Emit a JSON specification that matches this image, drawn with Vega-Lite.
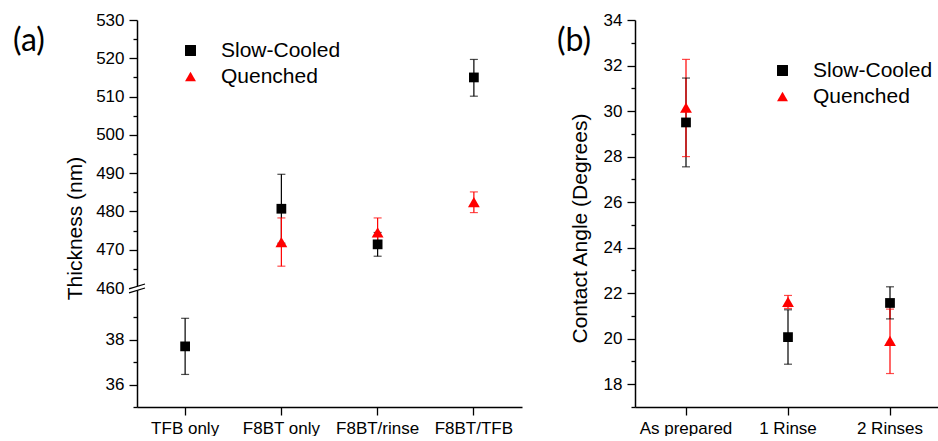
{
  "$schema": "https://vega.github.io/schema/vega-lite/v6.json",
  "padding": {"left": 12, "top": 11, "right": 0, "bottom": 0},
  "datasets": {
    "thickness": [
      {"sample": "TFB only", "series": "Slow-Cooled", "value": 37.7, "lo": 36.45, "hi": 38.95},
      {"sample": "F8BT only", "series": "Slow-Cooled", "value": 480.7, "lo": 471.7, "hi": 489.7},
      {"sample": "F8BT/rinse", "series": "Slow-Cooled", "value": 471.4, "lo": 468.3, "hi": 474.5},
      {"sample": "F8BT/TFB", "series": "Slow-Cooled", "value": 515.0, "lo": 510.1, "hi": 519.7},
      {"sample": "F8BT only", "series": "Quenched", "value": 472.0, "lo": 465.7, "hi": 478.3},
      {"sample": "F8BT/rinse", "series": "Quenched", "value": 474.5, "lo": 470.7, "hi": 478.3},
      {"sample": "F8BT/TFB", "series": "Quenched", "value": 482.4, "lo": 479.7, "hi": 485.1}
    ],
    "angle": [
      {"sample": "As prepared", "series": "Slow-Cooled", "value": 29.5, "lo": 27.55, "hi": 31.45},
      {"sample": "1 Rinse", "series": "Slow-Cooled", "value": 20.07, "lo": 18.88, "hi": 21.27},
      {"sample": "2 Rinses", "series": "Slow-Cooled", "value": 21.57, "lo": 20.87, "hi": 22.28},
      {"sample": "As prepared", "series": "Quenched", "value": 30.15, "lo": 28.0, "hi": 32.27},
      {"sample": "1 Rinse", "series": "Quenched", "value": 21.62, "lo": 21.33, "hi": 21.9},
      {"sample": "2 Rinses", "series": "Quenched", "value": 19.9, "lo": 18.47, "hi": 21.3}
    ]
  },
  "hconcat": [
    {
      "vconcat": [
        {
          "width": 385,
          "height": 268,
          "title": {"text": "(a)", "anchor": "end", "frame": "group", "orient": "left", "angle": 0, "align": "right", "baseline": "top", "font": "Lato", "fontSize": 32, "fontWeight": "normal", "color": "black", "offset": -12, "dy": 6},
          "data": {"name": "thickness"},
          "transform": [{"filter": "datum.value > 100"}],
          "encoding": {
            "x": {"field": "sample", "type": "nominal", "scale": {"domain": ["TFB only", "F8BT only", "F8BT/rinse", "F8BT/TFB"], "paddingInner": 0, "paddingOuter": 0}, "axis": null}
          },
          "layer": [
            {
              "mark": {"type": "rule", "strokeWidth": 1.2},
              "encoding": {
                "y": {"field": "lo", "type": "quantitative", "title": "Thickness (nm)", "scale": {"domain": [460, 530], "nice": false, "zero": false},
                  "axis": {"values": [460, 465, 470, 475, 480, 485, 490, 495, 500, 505, 510, 515, 520, 525, 530], "tickCount": 100, "format": "d", "labelExpr": "datum.value % 10 === 0 ? datum.label : ''", "tickSize": {"condition": {"test": "datum.value % 10 === 0", "value": 8}, "value": 4}, "titleY": 208, "titlePadding": 10}},
                "y2": {"field": "hi"},
                "color": {"condition": {"test": "datum.series === 'Quenched'", "value": "#ff0000"}, "value": "black"}
              }
            },
            {
              "mark": {"type": "tick", "size": 8, "thickness": 1.2},
              "encoding": {
                "y": {"field": "lo", "type": "quantitative", "title": "Thickness (nm)"},
                "color": {"condition": {"test": "datum.series === 'Quenched'", "value": "#ff0000"}, "value": "black"}
              }
            },
            {
              "mark": {"type": "tick", "size": 8, "thickness": 1.2},
              "encoding": {
                "y": {"field": "hi", "type": "quantitative", "title": "Thickness (nm)"},
                "color": {"condition": {"test": "datum.series === 'Quenched'", "value": "#ff0000"}, "value": "black"}
              }
            },
            {
              "mark": {"type": "point", "filled": true, "opacity": 1},
              "encoding": {
                "y": {"field": "value", "type": "quantitative", "title": "Thickness (nm)"},
                "color": {"field": "series", "type": "nominal", "scale": {"domain": ["Slow-Cooled", "Quenched"], "range": ["black", "#ff0000"]},
                  "legend": {"orient": "none", "legendX": 43, "legendY": 20, "title": null}},
                "shape": {"field": "series", "type": "nominal", "scale": {"domain": ["Slow-Cooled", "Quenched"], "range": ["square", "triangle-up"]},
                  "legend": {"orient": "none", "legendX": 43, "legendY": 20, "title": null}},
                "size": {"field": "series", "type": "nominal", "scale": {"domain": ["Slow-Cooled", "Quenched"], "range": [95, 140]}, "legend": null}
              }
            }
          ]
        },
        {
          "width": 385,
          "height": 119,
          "data": {"name": "thickness"},
          "transform": [{"filter": "datum.value < 100"}],
          "layer": [
            {
              "layer": [
                {
                  "mark": {"type": "rule", "strokeWidth": 1.2},
                  "encoding": {
                    "y": {"field": "lo", "type": "quantitative", "title": null, "scale": {"domain": [35, 40.3], "nice": false, "zero": false},
                      "axis": {"values": [35, 36, 37, 38, 39], "tickCount": 100, "format": "d", "labelExpr": "datum.value % 2 === 0 ? datum.label : ''", "tickSize": {"condition": {"test": "datum.value % 2 === 0", "value": 8}, "value": 4}}},
                    "y2": {"field": "hi"},
                    "color": {"condition": {"test": "datum.series === 'Quenched'", "value": "#ff0000"}, "value": "black"}
                  }
                },
                {
                  "mark": {"type": "tick", "size": 8, "thickness": 1.2},
                  "encoding": {
                    "y": {"field": "lo", "type": "quantitative", "title": null},
                    "color": {"condition": {"test": "datum.series === 'Quenched'", "value": "#ff0000"}, "value": "black"}
                  }
                },
                {
                  "mark": {"type": "tick", "size": 8, "thickness": 1.2},
                  "encoding": {
                    "y": {"field": "hi", "type": "quantitative", "title": null},
                    "color": {"condition": {"test": "datum.series === 'Quenched'", "value": "#ff0000"}, "value": "black"}
                  }
                },
                {
                  "mark": {"type": "point", "filled": true, "opacity": 1},
                  "encoding": {
                    "y": {"field": "value", "type": "quantitative", "title": null},
                    "color": {"field": "series", "type": "nominal", "scale": {"domain": ["Slow-Cooled", "Quenched"], "range": ["black", "#ff0000"]}, "legend": null},
                    "shape": {"field": "series", "type": "nominal", "scale": {"domain": ["Slow-Cooled", "Quenched"], "range": ["square", "triangle-up"]}, "legend": null},
                    "size": {"field": "series", "type": "nominal", "scale": {"domain": ["Slow-Cooled", "Quenched"], "range": [95, 140]}, "legend": null}
                  }
                }
              ],
              "encoding": {
                "x": {"field": "sample", "type": "nominal", "scale": {"domain": ["TFB only", "F8BT only", "F8BT/rinse", "F8BT/TFB"], "paddingInner": 0, "paddingOuter": 0},
                  "axis": {"labelAngle": 0, "title": null, "tickSize": 8, "labelPadding": 5}}
              }
            },
            {
              "data": {"values": [{"mark": "axis break"}]},
              "layer": [
                {
                  "mark": {"type": "point", "shape": "M-1,0.1L1,-0.5L1,0L-1,0.6Z", "size": 256, "filled": true, "fill": "white", "strokeWidth": 0, "opacity": 1},
                  "encoding": {
                    "x": {"datum": 0, "type": "quantitative", "scale": {"domain": [0, 1]}, "axis": null},
                    "y": {"datum": 40.3, "type": "quantitative"}
                  }
                },
                {
                  "mark": {"type": "point", "shape": "M-1,0.1L1,-0.5M-1,0.6L1,0", "size": 256, "filled": false, "stroke": "black", "strokeWidth": 1.3, "opacity": 1},
                  "encoding": {
                    "x": {"datum": 0, "type": "quantitative", "scale": {"domain": [0, 1]}, "axis": null},
                    "y": {"datum": 40.3, "type": "quantitative"}
                  }
                }
              ]
            }
          ],
          "resolve": {"scale": {"x": "independent"}}
        }
      ],
      "spacing": 0,
      "bounds": "flush",
      "resolve": {"legend": {"color": "independent", "shape": "independent"}}
    },
    {
      "width": 306,
      "height": 387,
      "title": {"text": "(b)", "anchor": "end", "frame": "group", "orient": "left", "angle": 0, "align": "right", "baseline": "top", "font": "Lato", "fontSize": 32, "fontWeight": "normal", "color": "black", "offset": -56, "dy": 6},
      "data": {"name": "angle"},
      "encoding": {
        "x": {"field": "sample", "type": "nominal", "scale": {"domain": ["As prepared", "1 Rinse", "2 Rinses"], "paddingInner": 0, "paddingOuter": 0},
          "axis": {"labelAngle": 0, "title": null, "tickSize": 8, "labelPadding": 5}}
      },
      "layer": [
        {
          "mark": {"type": "rule", "strokeWidth": 1.2},
          "encoding": {
            "y": {"field": "lo", "type": "quantitative", "title": "Contact Angle (Degrees)", "scale": {"domain": [17, 34], "nice": false, "zero": false},
              "axis": {"values": [17, 18, 19, 20, 21, 22, 23, 24, 25, 26, 27, 28, 29, 30, 31, 32, 33, 34], "tickCount": 100, "format": "d", "labelExpr": "datum.value % 2 === 0 ? datum.label : ''", "tickSize": {"condition": {"test": "datum.value % 2 === 0", "value": 8}, "value": 4}, "titleY": 208, "titlePadding": 13}},
            "y2": {"field": "hi"},
            "color": {"condition": {"test": "datum.series === 'Quenched'", "value": "#ff0000"}, "value": "black"}
          }
        },
        {
          "mark": {"type": "tick", "size": 8, "thickness": 1.2},
          "encoding": {
            "y": {"field": "lo", "type": "quantitative", "title": "Contact Angle (Degrees)"},
            "color": {"condition": {"test": "datum.series === 'Quenched'", "value": "#ff0000"}, "value": "black"}
          }
        },
        {
          "mark": {"type": "tick", "size": 8, "thickness": 1.2},
          "encoding": {
            "y": {"field": "hi", "type": "quantitative", "title": "Contact Angle (Degrees)"},
            "color": {"condition": {"test": "datum.series === 'Quenched'", "value": "#ff0000"}, "value": "black"}
          }
        },
        {
          "mark": {"type": "point", "filled": true, "opacity": 1},
          "encoding": {
            "y": {"field": "value", "type": "quantitative", "title": "Contact Angle (Degrees)"},
            "color": {"field": "series", "type": "nominal", "scale": {"domain": ["Slow-Cooled", "Quenched"], "range": ["black", "#ff0000"]},
              "legend": {"orient": "none", "legendX": 137, "legendY": 40, "title": null}},
            "shape": {"field": "series", "type": "nominal", "scale": {"domain": ["Slow-Cooled", "Quenched"], "range": ["square", "triangle-up"]},
              "legend": {"orient": "none", "legendX": 137, "legendY": 40, "title": null}},
            "size": {"field": "series", "type": "nominal", "scale": {"domain": ["Slow-Cooled", "Quenched"], "range": [95, 140]}, "legend": null}
          }
        }
      ]
    }
  ],
  "spacing": 34,
  "resolve": {"legend": {"color": "independent", "shape": "independent"}},
  "config": {
    "font": "Liberation Sans",
    "view": {"stroke": null},
    "axis": {"grid": false, "domainColor": "black", "tickColor": "black", "labelColor": "black", "titleColor": "black", "labelFontSize": 17, "titleFontSize": 21, "titleFontWeight": "normal", "domainWidth": 1.5, "tickWidth": 1.3, "tickSize": 8, "labelPadding": 5, "labelOverlap": false},
    "legend": {"labelFontSize": 21, "labelColor": "black", "symbolSize": 120, "labelOffset": 20, "rowPadding": 4, "symbolStrokeWidth": 0, "padding": 0}
  }
}
